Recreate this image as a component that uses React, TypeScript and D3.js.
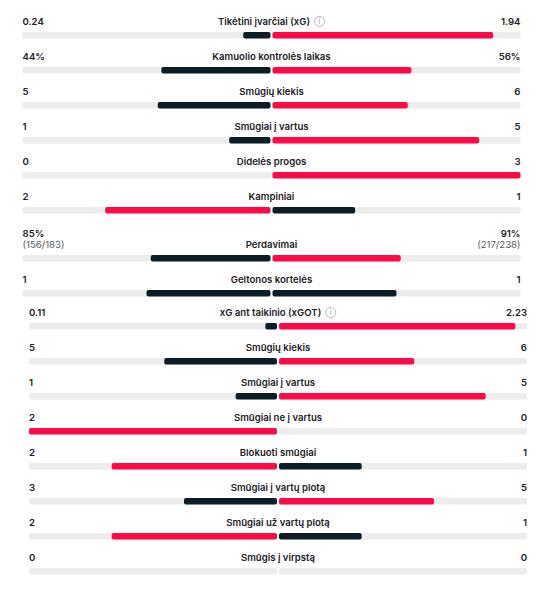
import * as d3 from "d3";
import React from "react";

// match stats, home on the left, away on the right
const statLabels = [
  "Tikėtini įvarčiai (xG)",
  "Kamuolio kontrolės laikas",
  "Smūgių kiekis",
  "Smūgiai į vartus",
  "Didelės progos",
  "Kampiniai",
  "Perdavimai",
  "Geltonos kortelės",
  "xG ant taikinio (xGOT)",
  "Smūgių kiekis",
  "Smūgiai į vartus",
  "Smūgiai ne į vartus",
  "Blokuoti smūgiai",
  "Smūgiai į vartų plotą",
  "Smūgiai už vartų plotą",
  "Smūgis į virpstą",
];
const homeValues = [0.24, 44, 5, 1, 0, 2, 85, 1, 0.11, 5, 1, 2, 2, 3, 2, 0];
const awayValues = [1.94, 56, 6, 5, 3, 1, 91, 1, 2.23, 6, 5, 0, 1, 5, 1, 0];
const homeText = ["0.24", "44%", "5", "1", "0", "2", "85%", "1", "0.11", "5", "1", "2", "2", "3", "2", "0"];
const awayText = ["1.94", "56%", "6", "5", "3", "1", "91%", "1", "2.23", "6", "5", "0", "1", "5", "1", "0"];
const homeSub = ["", "", "", "", "", "", "(156/183)", "", "", "", "", "", "", "", "", ""];
const awaySub = ["", "", "", "", "", "", "(217/238)", "", "", "", "", "", "", "", "", ""];
const hasInfo = [true, false, false, false, false, false, false, false, true, false, false, false, false, false, false, false];
const groupOf = [0, 0, 0, 0, 0, 0, 0, 0, 1, 1, 1, 1, 1, 1, 1, 1];

const RED = "#ff0a47";
const DARK = "#0d1d25";
const TRACK = "#ececec";
const TEXT = "#222226";
const FONT = "Inter, 'Noto Sans', sans-serif";

export default function App() {
  const ref = React.useRef<SVGSVGElement>(null);

  React.useEffect(() => {
    const width = 543, height = 590;
    const svg = d3.select(ref.current);
    svg.selectAll("*").remove();
    svg.append("rect").attr("width", width).attr("height", height).attr("fill", "#fff");

    // two blocks, the lower one sits a bit further right
    const groupLeft = [22.5, 29];
    const groupTop = [32, 323];
    const halfW = 248;
    const gap = 1;
    const rowStep = 35;
    const subExtra = 13;

    // track tops
    const tops: number[] = [];
    let cur = [groupTop[0], groupTop[1]];
    statLabels.forEach((_, i) => {
      const g = groupOf[i];
      if (homeSub[i]) cur[g] += subExtra;
      tops.push(cur[g]);
      cur[g] += rowStep;
    });

    const share = d3.scaleLinear().domain([0, 1]).range([0, halfW]);

    statLabels.forEach((label, i) => {
      const g = groupOf[i];
      const left = groupLeft[g];
      const center = left + halfW + gap;
      const right = center + gap + halfW;
      const top = tops[i];
      const bh = 6.5;
      const row = svg.append("g");

      // tracks
      row.append("rect").attr("x", left).attr("y", top).attr("width", halfW).attr("height", bh)
        .attr("rx", 1.5).attr("fill", TRACK);
      row.append("rect").attr("x", center + gap).attr("y", top).attr("width", halfW).attr("height", bh)
        .attr("rx", 1.5).attr("fill", TRACK);

      const h = homeValues[i], a = awayValues[i];
      const total = h + a;
      const hc = h > a ? RED : DARK;
      const ac = a > h ? RED : DARK;
      if (total > 0) {
        const hw = share(h / total);
        const aw = share(a / total);
        if (hw > 0)
          row.append("rect").attr("x", center - gap - hw).attr("y", top).attr("width", hw).attr("height", bh)
            .attr("rx", 2).attr("fill", hc);
        if (aw > 0)
          row.append("rect").attr("x", center + gap).attr("y", top).attr("width", aw).attr("height", bh)
            .attr("rx", 2).attr("fill", ac);
      }

      const base = top - 7;
      const valBase = homeSub[i] ? top - 18.5 : base;
      row.append("text").attr("x", left).attr("y", valBase).text(homeText[i])
        .attr("font-family", FONT).attr("font-size", 9.6).attr("font-weight", 600).attr("fill", TEXT);
      row.append("text").attr("x", right).attr("y", valBase).attr("text-anchor", "end").text(awayText[i])
        .attr("font-family", FONT).attr("font-size", 9.6).attr("font-weight", 600).attr("fill", TEXT);
      if (homeSub[i]) {
        row.append("text").attr("x", left).attr("y", base).text(homeSub[i])
          .attr("font-family", FONT).attr("font-size", 9.6).attr("fill", "#5c5c63");
        row.append("text").attr("x", right).attr("y", base).attr("text-anchor", "end").text(awaySub[i])
          .attr("font-family", FONT).attr("font-size", 9.6).attr("fill", "#5c5c63");
      }

      const lbl = row.append("text").attr("y", base).text(label)
        .attr("font-family", FONT).attr("font-size", 9.6).attr("font-weight", 600).attr("fill", TEXT);
      const tw = (lbl.node() as SVGTextElement).getComputedTextLength();
      const iconW = hasInfo[i] ? 15 : 0;
      const startX = center - (tw + iconW) / 2;
      lbl.attr("x", startX);
      if (hasInfo[i]) {
        const cx = startX + tw + 9.5;
        const cy = base - 3.5;
        row.append("circle").attr("cx", cx).attr("cy", cy).attr("r", 5)
          .attr("fill", "none").attr("stroke", "#a8a8ad").attr("stroke-width", 0.8);
        row.append("text").attr("x", cx).attr("y", cy + 2.8).attr("text-anchor", "middle").text("i")
          .attr("font-family", FONT).attr("font-size", 7.5).attr("fill", "#a8a8ad");
      }
    });
  }, []);

  return (
    <svg ref={ref} width={543} height={590} style={{ position: "absolute", left: 0, top: 0 }} />
  );
}
